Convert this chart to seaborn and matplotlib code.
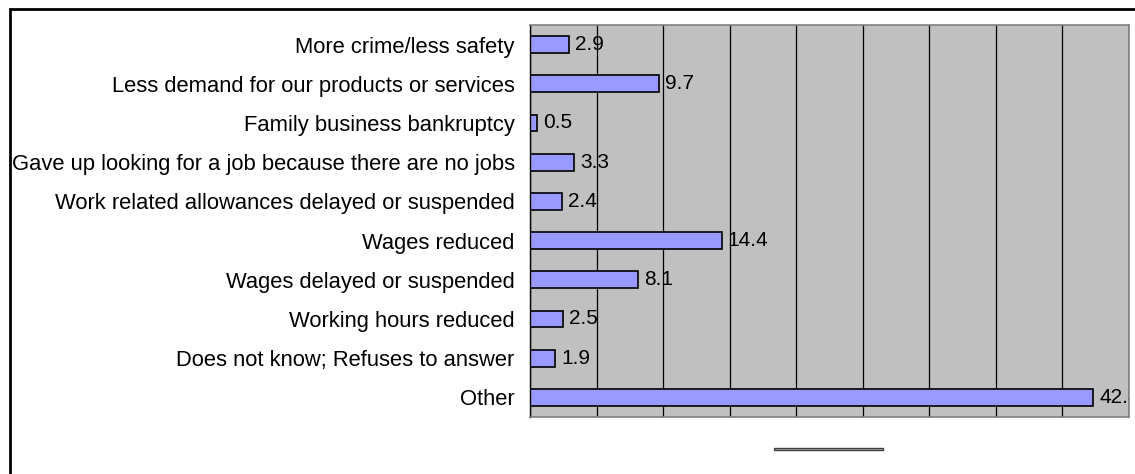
#!/usr/bin/env python3

import pandas as pd
import matplotlib
matplotlib.use("Agg")
import matplotlib.pyplot as plt
from matplotlib.patches import Rectangle
import seaborn as sns

categories = [
    "More crime/less safety",
    "Less demand for our products or services",
    "Family business bankruptcy",
    "Gave up looking for a job because there are no jobs",
    "Work related allowances delayed or suspended",
    "Wages reduced",
    "Wages delayed or suspended",
    "Working hours reduced",
    "Does not know; Refuses to answer",
    "Other",
]
values = [2.9, 9.7, 0.5, 3.3, 2.4, 14.4, 8.1, 2.5, 1.9, 42.3]
x_ticks = [0, 5, 10, 15, 20, 25, 30, 35, 40, 45]

df = pd.DataFrame({"category": categories, "value": values})

sns.set_style("white")
plt.rcParams["font.family"] = ["Liberation Sans", "DejaVu Sans"]
plt.rcParams["text.color"] = "black"
plt.rcParams["ytick.labelcolor"] = "black"

W, H = 1135, 474
fig = plt.figure(figsize=(W / 100, H / 100), dpi=100)
ax = fig.add_axes([530 / W, 1 - 417 / H, (1129 - 530) / W, (417 - 25) / H])
ax.set_facecolor("#C0C0C0")

sns.barplot(data=df, x="value", y="category", orient="h", color="#9999FF",
            saturation=1, width=0.43, edgecolor="black", linewidth=1.2, ax=ax)

ax.set_xlim(0, 45)
ax.set_ylim(len(categories) - 0.5, -0.5)
ax.set_xticks(x_ticks)
ax.xaxis.grid(True, color="black", linewidth=0.9)
ax.set_axisbelow(True)
ax.tick_params(axis="x", length=0, labelbottom=False)
ax.set_xlabel("")
ax.set_ylabel("")

# category ticks sit on the band boundaries, labels in the middle
ax.set_yticks(range(len(categories)))
ax.set_yticklabels(categories, fontsize=15.8, color="black")
ax.tick_params(axis="y", length=0, pad=11)
ax.set_yticks([i + 0.5 for i in range(-1, len(categories))], minor=True)
ax.tick_params(axis="y", which="minor", length=7, width=1, color="black", direction="out")

for s in ["top", "right", "bottom"]:
    ax.spines[s].set_color("#808080")
    ax.spines[s].set_linewidth(1.2)
ax.spines["left"].set_color("black")
ax.spines["left"].set_linewidth(1)

# value labels are clipped at the plot edge, as in the original (42.3 is cut)
for i, v in enumerate(values):
    ax.text(v + 0.45, i, f"{v}", va="center", ha="left", fontsize=15,
            color="black", clip_on=True)

# outer chart frame and the empty legend bar
fig.patches.append(Rectangle((10 / W, -0.1), 1.2, 1 - 9 / H + 0.1, transform=fig.transFigure,
                             fill=False, edgecolor="black", linewidth=2))
fig.patches.append(Rectangle((774 / W, 1 - 450 / H), (883 - 774) / W, 2 / H,
                             transform=fig.transFigure, facecolor="#C0C0C0",
                             edgecolor="#404040", linewidth=1))

fig.savefig("out.png", dpi=100)
